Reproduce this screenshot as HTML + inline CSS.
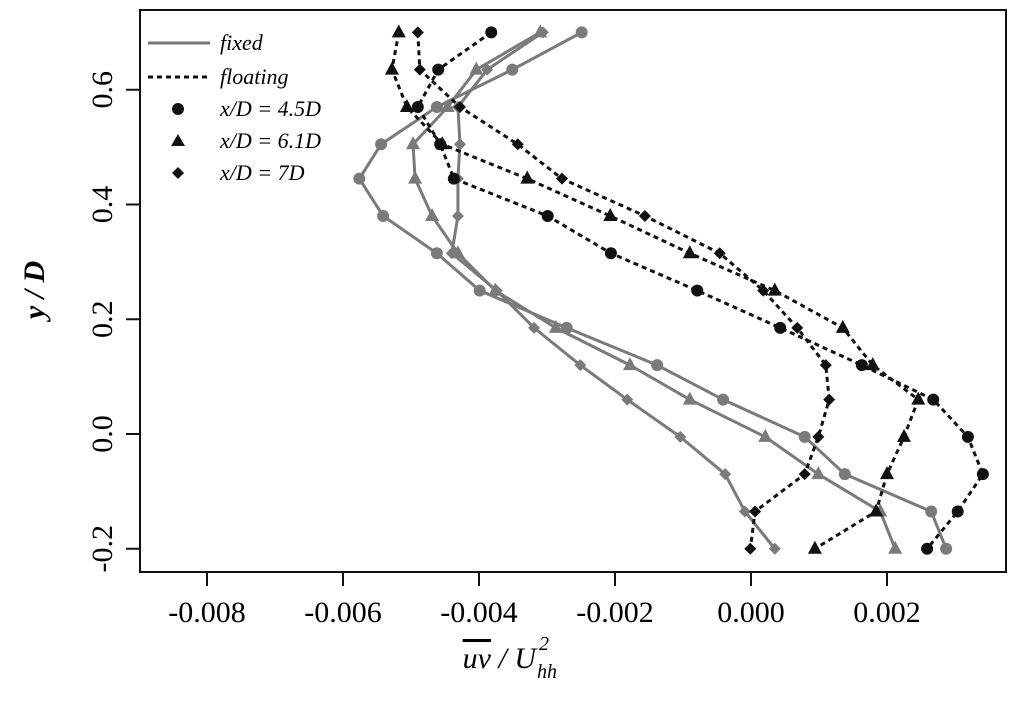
<!DOCTYPE html>
<html><head><meta charset="utf-8"><style>
html,body{margin:0;padding:0;background:#fff;}
svg{display:block;font-family:"Liberation Serif",serif;}
</style></head><body>
<svg id="chart" width="1024" height="705" viewBox="0 0 1024 705">
<rect x="140" y="10" width="866" height="562" fill="none" stroke="#111" stroke-width="2"/>
<g id="xaxis"></g>
<g id="yaxis"></g>
<g id="series"></g>
<g font-style="italic">
<text x="536" y="668" font-size="30" text-anchor="end"><tspan text-decoration="overline">uv</tspan> / U</text>
<text x="537" y="678" font-size="20">hh</text>
<text x="539" y="650" font-size="20">2</text>
</g>
<text transform="translate(44,290) rotate(-90)" font-size="30" font-style="italic" font-weight="bold" text-anchor="middle">y / D</text>
<g font-size="22" font-style="italic">
<line x1="148" y1="43" x2="210" y2="43" stroke="#777" stroke-width="3"/>
<text x="220" y="50">fixed</text>
<line x1="148" y1="77" x2="210" y2="77" stroke="#111" stroke-width="3" stroke-dasharray="5,4"/>
<text x="220" y="84">floating</text>
<circle cx="178" cy="109" r="6" fill="#111"/>
<text x="220" y="116">x/D = 4.5D</text>
<polygon points="178,134 185,146 171,146" fill="#111"/>
<text x="220" y="148">x/D = 6.1D</text>
<polygon points="178,167 184,173 178,179 172,173" fill="#111"/>
<text x="220" y="180">x/D = 7D</text>
</g>
</svg>
<script>
const yLevels=[0.70,0.635,0.57,0.505,0.445,0.38,0.315,0.25,0.185,0.12,0.06,-0.005,-0.07,-0.135,-0.2];
const fixed45=[-0.00249,-0.00351,-0.00462,-0.00544,-0.00576,-0.00541,-0.00462,-0.00399,-0.00271,-0.00138,-0.00041,0.00079,0.00138,0.00265,0.00287];
const fixed61=[-0.0031,-0.00404,-0.00446,-0.00497,-0.00494,-0.00469,-0.00431,-0.00376,-0.00287,-0.00178,-0.0009,0.00021,0.00099,0.0019,0.00212];
const fixed7=[-0.00306,-0.00388,-0.00431,-0.00428,-0.00431,-0.00431,-0.0044,-0.00374,-0.00319,-0.00251,-0.00182,-0.00104,-0.00038,-0.00009,0.00035];
const float45=[-0.00382,-0.0046,-0.0049,-0.00457,-0.00437,-0.00299,-0.00206,-0.00079,0.00043,0.00163,0.00268,0.00319,0.00341,0.00304,0.00259];
const float61=[-0.00518,-0.00528,-0.00506,-0.00454,-0.00329,-0.00207,-0.0009,0.00035,0.00135,0.00179,0.00246,0.00225,0.002,0.00184,0.00094];
const float7=[-0.0049,-0.00487,-0.00428,-0.00343,-0.00278,-0.00156,-0.00046,0.00018,0.00068,0.0011,0.00115,0.00099,0.00079,0.00006,-0.00001];
const xTicks=[-0.008,-0.006,-0.004,-0.002,0.000,0.002];
const xTickLabels=["-0.008","-0.006","-0.004","-0.002","0.000","0.002"];
const yTicks=[-0.2,0.0,0.2,0.4,0.6];
const yTickLabels=["-0.2","0.0","0.2","0.4","0.6"];

const NS="http://www.w3.org/2000/svg";
const xs=v=>751+v/0.002*136;
const ys=v=>434-v/0.2*114.75;
function mk(tag,attrs,parent){const e=document.createElementNS(NS,tag);for(const k in attrs)e.setAttribute(k,attrs[k]);parent.appendChild(e);return e;}
const xa=document.getElementById('xaxis'),ya=document.getElementById('yaxis'),sg=document.getElementById('series');
xTicks.forEach((t,i)=>{
 const l=mk('line',{x1:xs(t),x2:xs(t),y1:572,y2:586,stroke:'#111','stroke-width':2},xa);
 
 
 const tx=mk('text',{x:xs(t),y:622,'font-size':30,'text-anchor':'middle'},xa);
 tx.textContent=xTickLabels[i];
 
 
});
yTicks.forEach((t,i)=>{
 const l=mk('line',{x1:126,x2:140,y1:ys(t),y2:ys(t),stroke:'#111','stroke-width':2},ya);
 
 
 const tx=mk('text',{transform:`translate(112,${ys(t)}) rotate(-90)`,'font-size':30,'text-anchor':'middle'},ya);
 tx.textContent=yTickLabels[i];
 
 
});
function marker(shape,x,y,color,g){
 let e;
 if(shape==='c')e=mk('circle',{cx:x,cy:y,r:6,fill:color},g);
 else if(shape==='t')e=mk('polygon',{points:`${x},${y-8} ${x+7},${y+5} ${x-7},${y+5}`,fill:color},g);
 else e=mk('polygon',{points:`${x},${y-6} ${x+6},${y} ${x},${y+6} ${x-6},${y}`,fill:color},g);
 
 
}
function series(vals,shape,color,dash,name){
 const g=mk('g',{},sg);
 
 
 const pts=vals.map((v,i)=>xs(v)+','+ys(yLevels[i])).join(' ');
 const p=mk('polyline',{points:pts,fill:'none',stroke:color,'stroke-width':3,'stroke-dasharray':dash?'5,4':'none','stroke-linejoin':'round'},g);
 
 
 vals.forEach((v,i)=>marker(shape,xs(v),ys(yLevels[i]),color,g));
}
series(fixed45,'c','#7a7a7a',false,'fixed-4-5d');
series(fixed61,'t','#7a7a7a',false,'fixed-6-1d');
series(fixed7,'d','#7a7a7a',false,'fixed-7d');
series(float45,'c','#111',true,'floating-4-5d');
series(float61,'t','#111',true,'floating-6-1d');
series(float7,'d','#111',true,'floating-7d');
</script>
</body></html>
